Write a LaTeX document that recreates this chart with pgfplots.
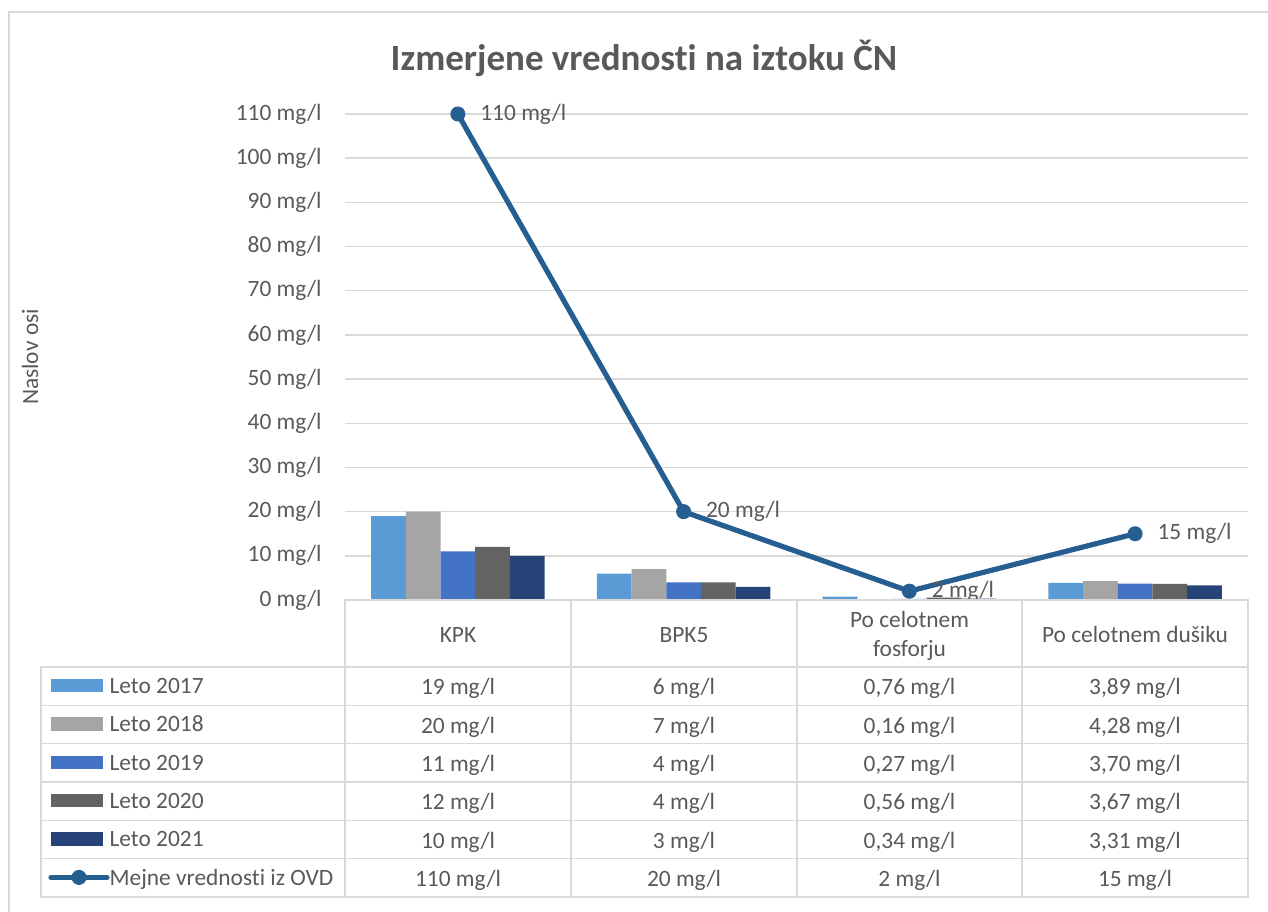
\documentclass[border=0pt]{standalone}
\usepackage{fontspec}
\setmainfont{Carlito}[Ligatures=NoCommon]
\usepackage{pgfplots}
\pgfplotsset{compat=1.18}

\definecolor{c17}{HTML}{5B9BD5}
\definecolor{c18}{HTML}{A5A5A5}
\definecolor{c19}{HTML}{4472C4}
\definecolor{c20}{HTML}{636363}
\definecolor{c21}{HTML}{264478}
\definecolor{cline}{HTML}{255E91}
\definecolor{txt}{HTML}{595959}
\definecolor{grd}{HTML}{D9D9D9}
\newcommand{\tf}{\fontsize{11.7}{14}\selectfont}

\pgfplotsset{
  bars/.style={ybar, bar width=0.1535, draw=none, fill=#1,
    legend image code/.code={\fill[#1] (0pt,-3.35pt) rectangle (26pt,3.35pt);}},
  lineleg/.style={legend image code/.code={%
    \draw[mark repeat=2,mark phase=2,line cap=round,##1]
      plot coordinates {(0pt,0pt) (14pt,0pt) (28pt,0pt)};}},
}

\begin{document}
\begin{tikzpicture}[font=\tf, text=txt]
\begin{axis}[
  at={(172.5pt,-300pt)}, anchor=south west,
  scale only axis, width=451.5pt, height=243pt,
  xmin=-0.5, xmax=3.5, ymin=0, ymax=110,
  xtick=\empty,
  ytick={0,10,...,110},
  /pgf/number format/assume math mode=true,
  yticklabel={\pgfmathprintnumber{\tick}~mg/l},
  yticklabel style={font=\tf, text=txt, inner sep=0pt, xshift=-11.5pt},
  major tick length=0pt,
  ymajorgrids, grid style={grd, line width=0.75pt},
  axis line style={draw=none},
  clip=false,
  legend cell align=left,
  legend style={at={(axis description cs:-0.3289,-0.16)}, anchor=north west,
    draw=none, fill=none, inner sep=0pt, font=\tf,
    row sep={19.165pt,between origins}, column sep=0pt,
    cells={anchor=base west},
    nodes={inner sep=0pt, text=txt, yshift=-3.8pt}},
]
\addplot[bars=c17, bar shift=-0.307] coordinates {(0,19) (1,6) (2,0.76) (3,3.89)};
\addlegendentry{Leto 2017}
\addplot[bars=c18, bar shift=-0.1535] coordinates {(0,20) (1,7) (2,0.16) (3,4.28)};
\addlegendentry{Leto 2018}
\addplot[bars=c19, bar shift=0] coordinates {(0,11) (1,4) (2,0.27) (3,3.70)};
\addlegendentry{Leto 2019}
\addplot[bars=c20, bar shift=0.1535] coordinates {(0,12) (1,4) (2,0.56) (3,3.67)};
\addlegendentry{Leto 2020}
\addplot[bars=c21, bar shift=0.307] coordinates {(0,10) (1,3) (2,0.34) (3,3.31)};
\addlegendentry{Leto 2021}
\addplot[cline, line width=2.6pt, mark=*, mark size=3.5pt,
  mark options={fill=cline, line width=0.5pt}, lineleg,
  nodes near coords={\pgfmathprintnumber{\pgfplotspointmeta}~mg/l},
  every node near coord/.append style={anchor=west, inner sep=0pt,
    xshift=11pt, font=\tf, text=txt}]
  coordinates {(0,110) (1,20) (2,2) (3,15)};
\addlegendentry{Mejne vrednosti iz OVD}
\end{axis}

\begin{scope}[x=0.5pt, y=-0.5pt]
  % frame
  \draw[grd, line width=0.75pt] (9,12) rectangle (1300,950);
  % title and axis title
  \node[anchor=base, font=\fontsize{18.5}{22}\selectfont\bfseries] at (644,70) {Izmerjene vrednosti na iztoku ČN};
  \node[rotate=90, anchor=center] at (30,357) {Naslov osi};
  % data table grid
  \begin{scope}[grd, line width=0.75pt, line cap=rect]
    \draw (345,600) -- (1248,600);
    \foreach \x in {345,571,797,1022,1248} \draw (\x,600) -- (\x,897);
    \foreach \y in {667,705.3,743.7,782,820.3,858.7,897} \draw (41,\y) -- (1248,\y);
    \draw (41,667) -- (41,897);
  \end{scope}
  % header
  \node[anchor=base] at (458,642) {KPK};
  \node[anchor=base] at (684,642) {BPK5};
  \node[anchor=base] at (909.5,627) {Po celotnem};
  \node[anchor=base] at (909.5,656) {fosforju};
  \node[anchor=base] at (1135,642) {Po celotnem dušiku};
  % cells
  \foreach \r/\a/\b/\c/\d in {
      0/{19 mg/l}/{6 mg/l}/{0,76 mg/l}/{3,89 mg/l},
      1/{20 mg/l}/{7 mg/l}/{0,16 mg/l}/{4,28 mg/l},
      2/{11 mg/l}/{4 mg/l}/{0,27 mg/l}/{3,70 mg/l},
      3/{12 mg/l}/{4 mg/l}/{0,56 mg/l}/{3,67 mg/l},
      4/{10 mg/l}/{3 mg/l}/{0,34 mg/l}/{3,31 mg/l},
      5/{110 mg/l}/{20 mg/l}/{2 mg/l}/{15 mg/l}} {
    \pgfmathsetmacro{\yy}{686.2+38.33*\r+8.5}
    \node[anchor=base] at (458,\yy) {\a};
    \node[anchor=base] at (684,\yy) {\b};
    \node[anchor=base] at (909.5,\yy) {\c};
    \node[anchor=base] at (1135,\yy) {\d};
  }
  \pgfresetboundingbox
  \path[use as bounding box] (0,0) rectangle (1268,911);
\end{scope}
\end{tikzpicture}
\end{document}
